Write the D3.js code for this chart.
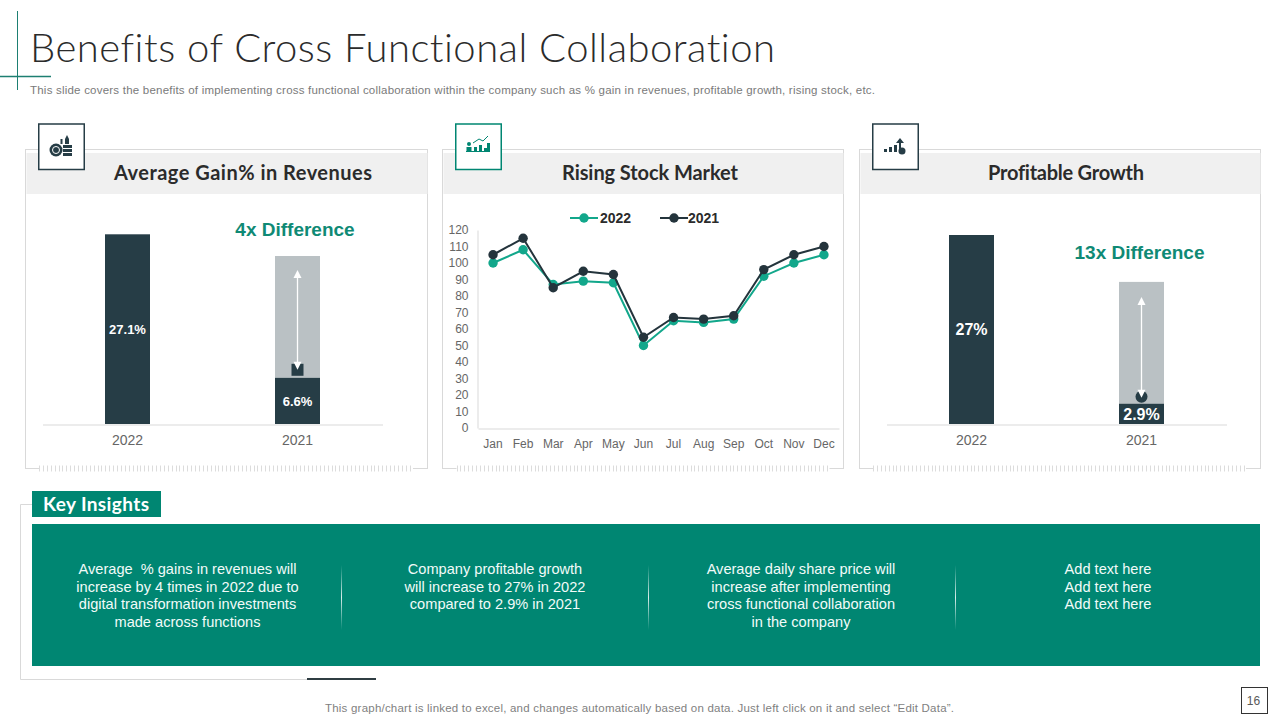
<!DOCTYPE html>
<html>
<head>
<meta charset="utf-8">
<script src="https://cdn.jsdelivr.net/npm/d3@7"></script>
<style>
html,body{margin:0;padding:0;background:#fff;overflow:hidden}
svg{display:block}
text{font-family:"Liberation Sans",Arial,sans-serif;font-variant-ligatures:none}
.head{font-family:Lato,sans-serif;font-weight:700}
</style>
</head>
<body>
<svg id="c" width="1280" height="720"></svg>
<script>
const months = ["Jan","Feb","Mar","Apr","May","Jun","Jul","Aug","Sep","Oct","Nov","Dec"];
const stock2022 = [100,108,87,89,88,50,65,64,66,92,100,105];
const stock2021 = [105,115,85,95,93,55,67,66,68,96,105,110];
const stockTicks = [0,10,20,30,40,50,60,70,80,90,100,110,120];
const years = ["2022","2021"];
const revenueValues = [27.1,6.6];
const revenueGap = [0,17.4];
const revenueLabels = ["27.1%","6.6%"];
const profitValues = [27,2.9];
const profitGap = [0,17.4];
const profitLabels = ["27%","2.9%"];
const insights = [
 ["Average  % gains in revenues will","increase by 4 times in 2022 due to","digital transformation investments","made across functions"],
 ["Company profitable growth","will increase to 27% in 2022","compared to 2.9% in 2021"],
 ["Average daily share price will","increase after implementing","cross functional collaboration","in the company"],
 ["Add text here","Add text here","Add text here"]
];

const DARK="#263d46", TEAL="#008672", LINE22="#12a78b", LINE21="#24343c", GREY="#bac1c4", RULE="#d9d9d9";
const svg=d3.select("#c");
svg.append("rect").attr("width",1280).attr("height",720).attr("fill","#fff");

// fading divider gradient
const grad=svg.append("defs").append("linearGradient").attr("id","fade").attr("x1",0).attr("x2",0).attr("y1",0).attr("y2",1);
[[0,0],[.5,.85],[1,0]].forEach(s=>grad.append("stop").attr("offset",s[0]).attr("stop-color","#fff").attr("stop-opacity",s[1]));

// title block
svg.append("line").attr("x1",17.5).attr("x2",17.5).attr("y1",11).attr("y2",90).attr("stroke","#1d7f72").attr("stroke-width",1);
svg.append("line").attr("x1",0).attr("x2",51).attr("y1",76.5).attr("y2",76.5).attr("stroke","#1d7f72").attr("stroke-width",1.5);
svg.append("text").attr("x",30).attr("y",62).attr("font-size",40).attr("fill","#2b2b2b")
  .style("font-family","Lato,sans-serif").style("font-weight",300).attr("textLength",745).attr("lengthAdjust","spacing")
  .text("Benefits of Cross Functional Collaboration");
svg.append("text").attr("x",30).attr("y",94).attr("font-size",11.5).attr("fill","#7a7a7a").attr("textLength",845).attr("lengthAdjust","spacing")
  .text("This slide covers the benefits of implementing cross functional collaboration within the company such as % gain in revenues, profitable growth, rising stock, etc.");

// panels
const panels=[
 {x:25,w:402,title:"Average Gain% in Revenues",tw:258,tc:243,box:38,col:DARK},
 {x:442.5,w:401,title:"Rising Stock Market",tw:176,tc:650,box:455,col:TEAL},
 {x:859,w:401,title:"Profitable Growth",tw:156,tc:1066,box:872,col:DARK}
];
panels.forEach(p=>{
  const px=Math.floor(p.x)+.5;
  svg.append("rect").attr("x",px).attr("y",149.5).attr("width",p.w).attr("height",319).attr("fill","#fff").attr("stroke",RULE);
  svg.append("rect").attr("x",px+1).attr("y",153).attr("width",p.w-1).attr("height",41).attr("fill","#f0f0f0");
  // hatched foot
  svg.append("rect").attr("x",p.x+14).attr("y",464).attr("width",p.w-28).attr("height",8).attr("fill","#fff");
  svg.append("g").selectAll("line").data(d3.range(p.x+14,p.x+387,3.9)).join("line")
    .attr("x1",d=>Math.round(d)+.5).attr("x2",d=>Math.round(d)+.5).attr("y1",465.5).attr("y2",471.5).attr("stroke","#dcdcdc").attr("stroke-width",1);
  svg.append("text").attr("class","head").attr("x",p.tc).attr("y",180).attr("text-anchor","middle").attr("font-size",20).attr("fill","#2b2b2b")
    .attr("textLength",p.tw).attr("lengthAdjust","spacing").text(p.title);
  svg.append("rect").attr("x",p.box+.75).attr("y",124).attr("width",45.5).attr("height",45.5).attr("fill","#fff").attr("stroke",p.col).attr("stroke-width",1.5);
});

// icons
(function(){
  const g=svg.append("g").attr("fill",DARK);
  g.append("circle").attr("cx",56).attr("cy",150).attr("r",6.5);
  g.append("circle").attr("cx",56).attr("cy",150).attr("r",3.5).attr("fill","none").attr("stroke","#fff").attr("stroke-width",1);
  g.append("rect").attr("x",63).attr("y",145).attr("width",9).attr("height",3);
  g.append("rect").attr("x",63).attr("y",149).attr("width",9).attr("height",3);
  g.append("rect").attr("x",63).attr("y",153).attr("width",9).attr("height",3);
  g.append("path").attr("d","M65 144v-5l2-4 2 4v5z");
  g.append("rect").attr("x",60.5).attr("y",139).attr("width",2).attr("height",5);
  const t=svg.append("g").attr("fill",TEAL);
  t.append("circle").attr("cx",469).attr("cy",144).attr("r",2);
  t.append("rect").attr("x",466.5).attr("y",147).attr("width",5).attr("height",4);
  [[474,147,4],[479,145,6],[484,148,3],[487,143,8]].forEach(b=>t.append("rect").attr("x",b[0]).attr("y",b[1]).attr("width",3).attr("height",b[2]));
  t.append("rect").attr("x",466).attr("y",151).attr("width",24).attr("height",1);
  t.append("path").attr("d","M473 143l6-4 4 2 5-5").attr("fill","none").attr("stroke",TEAL).attr("stroke-width",1);
  const u=svg.append("g").attr("fill",DARK);
  [[884,149,3],[889,147,5],[894,145,7]].forEach(b=>u.append("rect").attr("x",b[0]).attr("y",b[1]).attr("width",3).attr("height",b[2]));
  u.append("path").attr("d","M900 138l4 5h-3v6h-2v-6h-3z");
  u.append("circle").attr("cx",902).attr("cy",151).attr("r",3.5);
})();

// small bar charts
function barChart(opts){
  const x=d3.scaleBand().domain(years).range(opts.range).paddingInner(1-45/170).paddingOuter((1-45/170)/2);
  const y=d3.scaleLinear().domain([0,28]).range([424,228]);
  const g=svg.append("g");
  g.selectAll(".gap").data(years).join("rect")
    .attr("x",d=>x(d)).attr("width",x.bandwidth())
    .attr("y",(d,i)=>y(opts.values[i]+opts.gap[i]))
    .attr("height",(d,i)=>y(opts.values[i])-y(opts.values[i]+opts.gap[i])).attr("fill",GREY);
  g.selectAll(".val").data(years).join("rect")
    .attr("x",d=>x(d)).attr("width",x.bandwidth())
    .attr("y",(d,i)=>y(opts.values[i]))
    .attr("height",(d,i)=>y(0)-y(opts.values[i])).attr("fill",DARK);
  const ax=g.append("g").attr("transform","translate(0,424.5)").call(d3.axisBottom(x).tickSize(0).tickPadding(11));
  ax.select(".domain").attr("stroke",RULE);
  ax.selectAll("text").attr("font-size",14).attr("fill","#666").style("font-family",'"Liberation Sans",sans-serif');
  g.selectAll(".lab").data(years).join("text")
    .attr("x",d=>x(d)+x.bandwidth()/2).attr("text-anchor","middle").attr("fill","#fff")
    .attr("font-weight",700).attr("font-size",opts.fs)
    .attr("y",(d,i)=>(y(0)+y(opts.values[i]))/2+opts.fs*.36)
    .text((d,i)=>opts.labels[i]);
  // double arrow
  const cx=x("2021")+x.bandwidth()/2;
  const topY=y(opts.values[1]+opts.gap[1])+opts.arrowTopInset, botY=y(opts.values[1])-opts.arrowBotInset;
  if(opts.marker==="square") g.append("rect").attr("x",cx-6).attr("y",y(opts.values[1])-14).attr("width",12).attr("height",12).attr("fill",DARK);
  else g.append("circle").attr("cx",cx).attr("cy",y(opts.values[1])-7).attr("r",6).attr("fill",DARK);
  g.append("line").attr("x1",cx).attr("x2",cx).attr("y1",topY+4).attr("y2",botY-4).attr("stroke","#fff").attr("stroke-width",1.3);
  g.append("path").attr("d",`M${cx} ${topY}l4 8h-8z`).attr("fill","#fff");
  g.append("path").attr("d",`M${cx} ${botY}l4 -8h-8z`).attr("fill","#fff");
  g.append("text").attr("x",opts.diffX).attr("y",opts.diffY).attr("text-anchor","middle").attr("font-weight",700).attr("font-size",19).attr("fill","#0f8a75").text(opts.diff);
}
barChart({range:[42.5,382.5],values:revenueValues,gap:revenueGap,labels:revenueLabels,fs:13,marker:"square",arrowTopInset:14,arrowBotInset:8,diff:"4x Difference",diffX:295,diffY:236});
barChart({range:[886.5,1226.5],values:profitValues,gap:profitGap,labels:profitLabels,fs:16,marker:"circle",arrowTopInset:15,arrowBotInset:6,diff:"13x Difference",diffX:1139.5,diffY:259});

// line chart
(function(){
  const x=d3.scaleBand().domain(months).range([478,839]);
  const y=d3.scaleLinear().domain([0,120]).range([428,230]);
  const g=svg.append("g");
  const ay=g.append("g").attr("transform","translate(477.5,0)").call(d3.axisLeft(y).tickValues(stockTicks).tickSize(0).tickPadding(9));
  ay.select(".domain").attr("stroke",RULE);
  ay.selectAll("text").attr("font-size",12).attr("fill","#666").style("font-family",'"Liberation Sans",sans-serif');
  const ax=g.append("g").attr("transform","translate(0,428.5)").call(d3.axisBottom(x).tickSize(0).tickPadding(11));
  ax.select(".domain").attr("stroke",RULE);
  ax.selectAll("text").attr("font-size",12).attr("fill","#666").style("font-family",'"Liberation Sans",sans-serif');
  const line=d3.line().x((d,i)=>x(months[i])+x.bandwidth()/2).y(d=>y(d));
  [[stock2022,LINE22],[stock2021,LINE21]].forEach(([s,c])=>{
    g.append("path").datum(s).attr("d",line).attr("fill","none").attr("stroke",c).attr("stroke-width",2);
    g.append("g").selectAll("circle").data(s).join("circle")
      .attr("cx",(d,i)=>x(months[i])+x.bandwidth()/2).attr("cy",d=>y(d)).attr("r",4.7).attr("fill",c);
  });
  [["2022",LINE22,570,600],["2021",LINE21,660,688]].forEach(([t,c,lx,tx])=>{
    g.append("line").attr("x1",lx).attr("x2",lx+28).attr("y1",218).attr("y2",218).attr("stroke",c).attr("stroke-width",2);
    g.append("circle").attr("cx",lx+14).attr("cy",218).attr("r",4.7).attr("fill",c);
    g.append("text").attr("x",tx).attr("y",223).attr("font-size",14).attr("font-weight",700).attr("fill","#2b2b2b").text(t);
  });
})();

// key insights
svg.append("path").attr("d","M32 504.5H20.5V679.5H376").attr("fill","none").attr("stroke",RULE);
svg.append("rect").attr("x",307).attr("y",678).attr("width",69).attr("height",2).attr("fill","#2f3d43");
svg.append("rect").attr("x",32).attr("y",491).attr("width",129).attr("height",26).attr("fill",TEAL);
svg.append("text").attr("class","head").attr("x",96).attr("y",511).attr("text-anchor","middle").attr("font-size",19).attr("fill","#fff").attr("textLength",106).attr("lengthAdjust","spacing").text("Key Insights");
svg.append("rect").attr("x",32).attr("y",524).attr("width",1228).attr("height",142).attr("fill",TEAL);
const centers=[187.5,495,801,1108], dividers=[341,648,955];
dividers.forEach(d=>svg.append("rect").attr("x",d).attr("y",565).attr("width",1).attr("height",65).attr("fill","url(#fade)"));
insights.forEach((lines,i)=>{
  svg.append("g").selectAll("text").data(lines).join("text")
    .attr("x",centers[i]).attr("y",(d,j)=>574+j*17.67).attr("text-anchor","middle").attr("font-size",14.6).attr("fill","#f2fbf9")
    .attr("xml:space","preserve").style("white-space","pre").text(d=>d);
});

// footer
svg.append("text").attr("x",639.5).attr("y",712).attr("text-anchor","middle").attr("font-size",11.5).attr("fill","#7f7f7f").attr("textLength",629).attr("lengthAdjust","spacing")
  .text("This graph/chart is linked to excel, and changes automatically based on data. Just left click on it and select \u201cEdit Data\u201d.");
svg.append("rect").attr("x",1241.5).attr("y",687.5).attr("width",26).attr("height",26).attr("fill","#fff").attr("stroke","#333");
svg.append("text").attr("x",1253.5).attr("y",705).attr("text-anchor","middle").attr("font-size",12).attr("fill","#595959").text("16");
</script>
</body>
</html>
